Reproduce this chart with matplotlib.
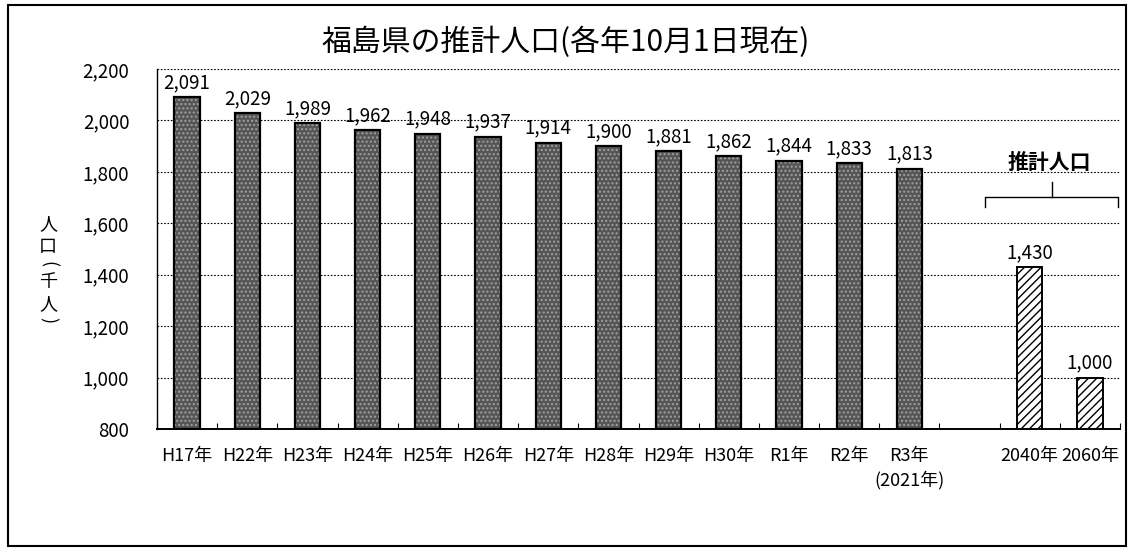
import matplotlib
matplotlib.use("Agg")
import matplotlib.pyplot as plt
from matplotlib.patches import Rectangle

plt.rcParams['font.family'] = ['Noto Sans CJK JP', 'DejaVu Sans']
plt.rcParams['hatch.linewidth'] = 1.0

# estimated population (thousand people), Oct 1 of each year
years = ["H17年", "H22年", "H23年", "H24年", "H25年", "H26年", "H27年",
         "H28年", "H29年", "H30年", "R1年", "R2年", "R3年\n(2021年)"]
pop = [2091, 2029, 1989, 1962, 1948, 1937, 1914, 1900, 1881, 1862, 1844, 1833, 1813]

# projections
proj_years = ["2040年", "2060年"]
proj_pop = [1430, 1000]

yticks = [800, 1000, 1200, 1400, 1600, 1800, 2000, 2200]

W, H = 1133, 548
fig = plt.figure(figsize=(W / 100, H / 100), dpi=100)
ax = fig.add_axes([157 / W, 1 - 429 / H, (1120 - 157) / W, (429 - 69) / H])

x_act = list(range(len(pop)))
x_proj = [len(pop) + 1 + i for i in range(len(proj_pop))]
bw = 0.42
base = yticks[0]

# stippled dark bars, then a black outline on top
ax.bar(x_act, [p - base for p in pop], bottom=base, width=bw,
       color="#555555", edgecolor="#a0a0a0", linewidth=0, hatch="....", zorder=3)
ax.bar(x_act, [p - base for p in pop], bottom=base, width=bw,
       fill=False, edgecolor="black", linewidth=1.6, zorder=4)
ax.bar(x_proj, [p - base for p in proj_pop], bottom=base, width=bw,
       color="white", edgecolor="black", linewidth=1.4, hatch="////", zorder=3)

for x, v in zip(x_act + x_proj, pop + proj_pop):
    ax.text(x, v + 16, f"{v:,}", ha="center", va="bottom", fontsize=13.5, zorder=5)

ax.set_xlim(-0.5, x_proj[-1] + 0.5)
ax.set_ylim(800, 2200)
ax.set_yticks(yticks)
ax.set_yticklabels([f"{t:,}" for t in yticks], fontsize=13.5)
ax.tick_params(axis="y", length=0, pad=20)

ax.set_xticks(x_act + x_proj)
ax.set_xticklabels(years + proj_years, fontsize=13, va="top", linespacing=1.35)
ax.set_xticks([i + 0.5 for i in range(-1, x_proj[-1] + 1)], minor=True)
ax.tick_params(axis="x", which="major", length=0, pad=13)
ax.tick_params(axis="x", which="minor", direction="in", length=4, width=0.8)

for t in yticks[1:]:
    ax.axhline(t, color="black", linestyle=(0, (1.5, 1.5)), linewidth=0.8, zorder=1)

ax.spines["right"].set_visible(False)
ax.spines["top"].set_visible(False)
ax.spines["left"].set_linewidth(1.0)
ax.spines["bottom"].set_linewidth(1.4)

# brace over the projections
bl, br, bm = 13.25, 15.47, 14.37
yb, yt = 1665, 1702
ax.plot([bl, bl, br, br], [yb, yt, yt, yb], color="black", lw=1.0, clip_on=False)
ax.plot([bm, bm], [yt, 1760], color="black", lw=1.0, clip_on=False)
ax.text(14.33, 1835, "推計人口", ha="center", va="center", fontsize=15,
        fontweight="bold", clip_on=False)

fig.text(566 / W, 1 - 42 / H, "福島県の推計人口(各年10月1日現在)",
         ha="center", va="center", fontsize=21.5)

# vertical y-axis caption, one character at a time (parens turned sideways)
ylab = [("人", 224, 0), ("口", 247, 0), ("(", 264, -90),
        ("千", 282, 0), ("人", 304, 0), (")", 320, -90)]
for ch, py, rot in ylab:
    fig.text(48 / W, 1 - py / H, ch, ha="center", va="center",
             fontsize=13, rotation=rot)

fig.patches.append(Rectangle((8 / W, 1 - 546 / H), (1126 - 8) / W, (546 - 5) / H,
                             transform=fig.transFigure, fill=False,
                             edgecolor="black", linewidth=1.5))

fig.savefig("out.png", dpi=100)
